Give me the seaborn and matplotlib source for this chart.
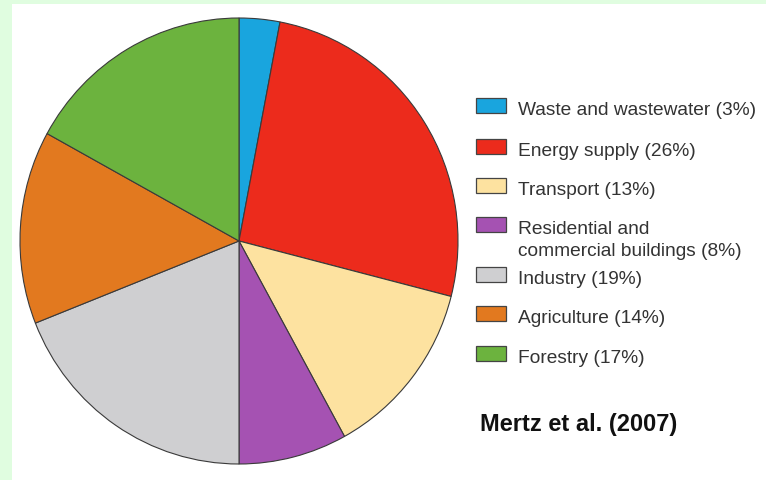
import matplotlib
matplotlib.use("Agg")
import matplotlib.pyplot as plt
from matplotlib.patches import Rectangle
import seaborn as sns

# Sector shares of emissions (percent)
sectors = ["Waste and wastewater", "Energy supply", "Transport",
           "Residential and\ncommercial buildings", "Industry",
           "Agriculture", "Forestry"]
shares = [3, 26, 13, 8, 19, 14, 17]
colors = ["#19a5de", "#ec2b1c", "#fde2a0", "#a552b2", "#cfcfd1",
          "#e2791f", "#6cb33e"]
source = "Mertz et al. (2007)"

sns.set_theme(style="white")
plt.rcParams["font.family"] = ["Liberation Sans", "DejaVu Sans"]

W, H = 766, 481
fig = plt.figure(figsize=(W / 100, H / 100), dpi=100, facecolor="#e0fde0")


def fx(px):
    return px / W


def fy(py):
    return 1 - py / H


# white panel inside the green frame
panel = fig.add_axes([fx(12), 0, 1 - fx(12), fy(5)], zorder=0)
panel.set_facecolor("white")
panel.axis("off")
panel.add_patch(Rectangle((0, 0), 1, 1, transform=panel.transAxes,
                          facecolor="white", edgecolor="none"))

# pie
ax = fig.add_axes([fx(20), fy(465), fx(458) - fx(20), fy(19) - fy(465)], zorder=1)
ax.pie(shares, colors=colors, startangle=90, counterclock=False,
       wedgeprops=dict(edgecolor="#3a3a3a", linewidth=0.8))
ax.set_xlim(-1, 1)
ax.set_ylim(-1, 1)
ax.set_aspect("auto")
ax.axis("off")

# legend
box_tops = [99, 140, 179, 218, 268, 307, 347]
box_h = 15
line_h = 22
for name, val, col, top in zip(sectors, shares, colors, box_tops):
    fig.patches.append(Rectangle((fx(476), fy(top + box_h)), fx(30), fy(top) - fy(top + box_h),
                                 transform=fig.transFigure, facecolor=col,
                                 edgecolor="#444444", linewidth=0.9, zorder=3))
    lines = f"{name} ({val}%)".split("\n")
    for i, line in enumerate(lines):
        fig.text(fx(518), fy(top + box_h + 1 + i * line_h), line, fontsize=13.8,
                 color="#333333", ha="left", va="baseline", zorder=3)

fig.text(fx(480), fy(425), source, fontsize=17, fontweight="bold",
         color="#111111", ha="left", va="center", zorder=3)

fig.savefig("out.png", dpi=100, facecolor=fig.get_facecolor())
